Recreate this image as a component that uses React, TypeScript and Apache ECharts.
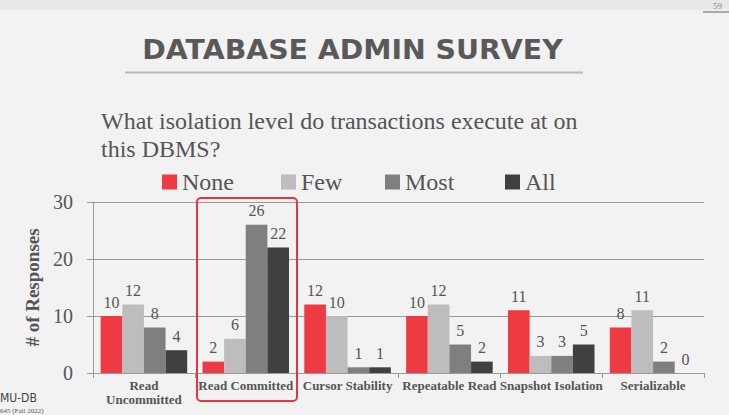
import React, { useEffect, useRef } from "react";
import * as echarts from "echarts";

const categories = [
  "Read\nUncommitted",
  "Read Committed",
  "Cursor Stability",
  "Repeatable Read",
  "Snapshot Isolation",
  "Serializable",
];
const seriesNames = ["None", "Few", "Most", "All"];
const noneValues = [10, 2, 12, 10, 11, 8];
const fewValues = [12, 6, 10, 12, 3, 11];
const mostValues = [8, 26, 1, 5, 3, 2];
const allValues = [4, 22, 1, 2, 5, 0];
const seriesColors = ["#ee3a43", "#bdbdbd", "#7f7f7f", "#404040"];
const legendLefts = [162, 281, 385, 505];

const TEXT = "#555555";
const SERIF = "'Liberation Serif', 'DejaVu Serif', serif";

export default function App() {
  const ref = useRef<HTMLDivElement>(null);
  useEffect(() => {
    if (!ref.current) return;
    const chart = echarts.init(ref.current, undefined, { renderer: "svg" });
    const values = [noneValues, fewValues, mostValues, allValues];
    chart.setOption({
      animation: false,
      backgroundColor: "#f2f2f2",
      grid: { left: 93, right: 25, top: 202, bottom: 42 },
      legend: seriesNames.map((name, i) => ({
        data: [name],
        left: legendLefts[i],
        top: 170,
        padding: 0,
        itemWidth: 15,
        itemHeight: 15,
        icon: "rect",
        textStyle: { fontFamily: SERIF, fontSize: 24, color: TEXT },
      })),
      xAxis: {
        type: "category",
        data: categories,
        axisLine: { lineStyle: { color: "#999" } },
        axisTick: { show: true, length: 5, lineStyle: { color: "#999" } },
        axisLabel: {
          interval: 0,
          margin: 5,
          fontFamily: SERIF,
          fontSize: 13,
          fontWeight: "bold",
          lineHeight: 14,
          color: TEXT,
        },
      },
      yAxis: {
        type: "value",
        min: 0,
        max: 30,
        interval: 10,
        name: "# of Responses",
        nameLocation: "middle",
        nameGap: 48,
        nameTextStyle: {
          fontFamily: SERIF,
          fontSize: 19,
          fontWeight: "bold",
          color: TEXT,
        },
        axisLine: { show: true, lineStyle: { color: "#999" } },
        axisTick: { show: true, length: 6, lineStyle: { color: "#999" } },
        axisLabel: {
          margin: 20,
          fontFamily: SERIF,
          fontSize: 20,
          color: TEXT,
        },
        splitLine: { lineStyle: { color: "#999" } },
      },
      series: seriesNames.map((name, i) => ({
        name,
        type: "bar",
        data: values[i],
        barGap: "0%",
        barCategoryGap: "15%",
        itemStyle: { color: seriesColors[i] },
        label: {
          show: true,
          position: "top",
          distance: 6,
          fontFamily: SERIF,
          fontSize: 16,
          color: TEXT,
        },
      })),
      graphic: [
        {
          type: "rect",
          z: -10,
          shape: { x: 0, y: 0, width: 729, height: 10 },
          style: { fill: "#e9e9e9" },
        },
        {
          type: "text",
          x: 713,
          y: 1,
          style: { text: "59", font: "9px " + SERIF, fill: "#888" },
        },
        {
          type: "line",
          shape: { x1: 703, y1: 12, x2: 729, y2: 12 },
          style: { stroke: "#aaa", lineWidth: 2 },
        },
        {
          type: "text",
          x: 352.5,
          y: 50,
          scaleX: 1.05,
          style: {
            text: "DATABASE ADMIN SURVEY",
            font: "bold 27px 'DejaVu Sans', sans-serif",
            fill: "#595959",
            textAlign: "center",
            textVerticalAlign: "middle",
          },
        },
        {
          type: "line",
          shape: { x1: 125, y1: 72.5, x2: 583, y2: 72.5 },
          style: { stroke: "#b8b8b8", lineWidth: 2 },
        },
        {
          type: "text",
          x: 101,
          y: 107,
          style: {
            text: "What isolation level do transactions execute at on\nthis DBMS?",
            font: "24px " + SERIF,
            lineHeight: 28,
            fill: TEXT,
          },
        },
        {
          type: "rect",
          z: 100,
          shape: { x: 197, y: 198, width: 100, height: 203, r: 4 },
          style: { fill: "none", stroke: "#e8343c", lineWidth: 2 },
        },
        {
          type: "text",
          x: 0,
          y: 392,
          style: {
            text: "MU-DB",
            font: "12px 'DejaVu Sans Condensed', 'DejaVu Sans', sans-serif",
            fill: "#444",
          },
        },
        {
          type: "text",
          x: 0,
          y: 407,
          style: { text: "645 (Fall 2022)", font: "7px " + SERIF, fill: "#555" },
        },
      ],
    });
    return () => chart.dispose();
  }, []);
  return (
    <div
      ref={ref}
      style={{ position: "fixed", left: 0, top: 0, width: 729, height: 415 }}
    />
  );
}
